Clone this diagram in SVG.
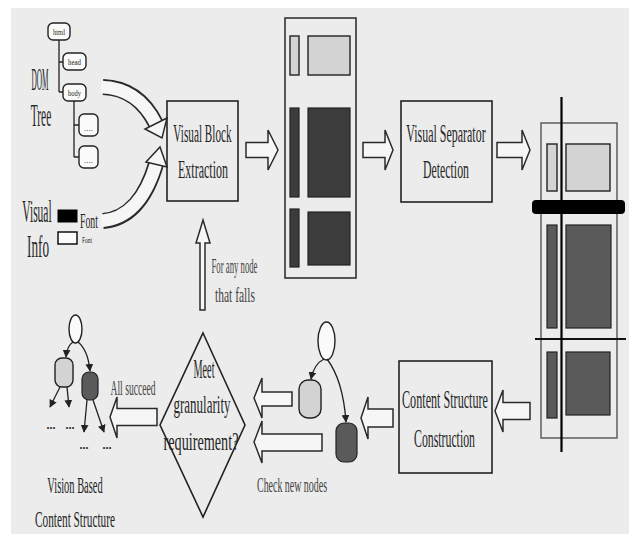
<svg xmlns="http://www.w3.org/2000/svg" width="629" height="534" viewBox="0 0 629 534">
<defs>
<style>
.t{font-family:"Liberation Serif",serif;fill:#262626;text-anchor:middle;}
.s{font-family:"Liberation Serif",serif;fill:#444;text-anchor:middle;}
.box{fill:none;stroke:#222;stroke-width:1.6;}
.arr{fill:#f6f6f6;stroke:#2a2a2a;stroke-width:1.5;stroke-linejoin:miter;}
.dn{fill:#fafafa;stroke:#222;stroke-width:1.4;}
.lt{fill:#d3d3d3;stroke:#222;stroke-width:1.4;}
.dk1{fill:#3c3c3c;stroke:#222;stroke-width:1.2;}
.dk2{fill:#5a5a5a;stroke:#222;stroke-width:1.2;}
.edge{fill:none;stroke:#222;stroke-width:1.3;}
</style>
<marker id="ah" viewBox="0 0 10 10" refX="9" refY="5" markerWidth="6" markerHeight="6" orient="auto">
<path d="M0,0 L10,5 L0,10 z" fill="#222"/>
</marker>
</defs>
<rect x="0" y="0" width="629" height="534" fill="#ffffff"/>
<rect x="11" y="8" width="618" height="526" fill="#ececec"/>

<g id="dom-tree">
<text class="t" font-size="32" transform="translate(40,90) scale(0.228,1)">DOM</text>
<text class="t" font-size="32" transform="translate(41,126) scale(0.358,1)">Tree</text>
<path class="edge" d="M59,40 V92 M59,62 H63 M59,92 H63 M74,101 V157 M74,125 H79 M74,157 H79"/>
<rect class="dn" x="48" y="23" width="22" height="17" rx="5"/>
<text class="t" font-size="9" transform="translate(59,35) scale(0.727,1)">html</text>
<rect class="dn" x="63" y="53" width="23" height="17" rx="5"/>
<text class="t" font-size="9" transform="translate(74.5,65) scale(0.765,1)">head</text>
<rect class="dn" x="63" y="84" width="23" height="17" rx="5"/>
<text class="t" font-size="9" transform="translate(74.5,96) scale(0.722,1)">body</text>
<rect class="dn" x="79" y="114" width="19" height="22" rx="5"/>
<text class="t" x="88.5" y="131" font-size="9">....</text>
<rect class="dn" x="79" y="146" width="19" height="22" rx="5"/>
<text class="t" x="88.5" y="163" font-size="9">....</text>
</g>

<g id="visual-info">
<text class="t" font-size="31" transform="translate(37,222) scale(0.371,1)">Visual</text>
<text class="t" font-size="31" transform="translate(38,257) scale(0.426,1)">Info</text>
<rect x="58" y="210" width="19" height="12" fill="#000" stroke="#000" stroke-width="1"/>
<rect x="58" y="232" width="19" height="12" fill="#fafafa" stroke="#111" stroke-width="1.5"/>
<text class="t" font-size="22" transform="translate(89,228) scale(0.446,1)">Font</text>
<text class="t" font-size="9" transform="translate(87,243) scale(0.606,1)">Font</text>
</g>

<g id="visual-block-extraction">
<rect class="box" x="167" y="101" width="71" height="100"/>
<text class="t" font-size="26" transform="translate(202.5,142) scale(0.432,1)">Visual Block</text>
<text class="t" font-size="26" transform="translate(203,178) scale(0.462,1)">Extraction</text>
</g>

<g id="page-blocks">
<rect x="285" y="18" width="71" height="260" fill="none" stroke="#333" stroke-width="1.6"/>
<rect class="lt" x="290" y="36" width="9" height="39"/>
<rect class="lt" x="308" y="36" width="42" height="39"/>
<rect class="dk1" x="290" y="108" width="9" height="89"/>
<rect class="dk1" x="308" y="108" width="42" height="89"/>
<rect class="dk1" x="290" y="209" width="9" height="58"/>
<rect class="dk1" x="308" y="212" width="42" height="53"/>
</g>

<g id="visual-separator-detection">
<rect class="box" x="401" y="101" width="91" height="101"/>
<text class="t" font-size="26" transform="translate(446,142) scale(0.46,1)">Visual Separator</text>
<text class="t" font-size="26" transform="translate(446,178) scale(0.455,1)">Detection</text>
</g>

<g id="page-separators">
<rect x="541" y="123" width="76" height="315" fill="none" stroke="#555" stroke-width="1.4"/>
<rect class="lt" x="547" y="144" width="10" height="47"/>
<rect class="lt" x="566" y="144" width="44" height="47"/>
<rect class="dk2" x="547" y="225" width="10" height="103"/>
<rect class="dk2" x="566" y="225" width="45" height="103"/>
<rect class="dk2" x="547" y="352" width="10" height="66"/>
<rect class="dk2" x="566" y="352" width="44" height="63"/>
<line x1="535" y1="339" x2="626" y2="339" stroke="#111" stroke-width="1.8"/>
<rect x="532" y="200" width="93" height="14" rx="4" fill="#000"/>
<line x1="561.5" y1="97" x2="561.5" y2="452" stroke="#000" stroke-width="2.2"/>
</g>

<g id="content-structure-construction">
<rect class="box" x="399" y="361" width="93" height="112"/>
<text class="t" font-size="26" transform="translate(445,408) scale(0.467,1)">Content Structure</text>
<text class="t" font-size="26" transform="translate(444.5,447) scale(0.454,1)">Construction</text>
</g>

<g id="new-nodes-tree">
<ellipse cx="326.5" cy="341" rx="8.5" ry="19" fill="#fafafa" stroke="#222" stroke-width="1.4"/>
<rect class="lt" x="299" y="380" width="22" height="38" rx="9"/>
<rect class="dk2" x="336" y="423" width="21" height="39" rx="8"/>
<path class="edge" d="M324,359 Q314,364 311,379" marker-end="url(#ah)"/>
<path class="edge" d="M327,359 Q343,380 346,422" marker-end="url(#ah)"/>
</g>

<g id="granularity-check">
<polygon points="203,333 245,425 203,517 160,425" fill="none" stroke="#222" stroke-width="1.6"/>
<text class="t" font-size="28" transform="translate(204,378) scale(0.365,1)">Meet</text>
<text class="t" font-size="26" transform="translate(202,413) scale(0.5,1)">granularity</text>
<text class="t" font-size="26" transform="translate(201,450) scale(0.547,1)">requirement?</text>
</g>

<g id="vision-based-content-structure">
<ellipse cx="75.5" cy="329" rx="6.5" ry="14" fill="#fafafa" stroke="#222" stroke-width="1.4"/>
<rect class="lt" x="55" y="358" width="18" height="29" rx="7"/>
<rect class="dk2" x="82" y="372" width="16" height="28" rx="7"/>
<path class="edge" d="M73,342 Q67,346 66,357" marker-end="url(#ah)"/>
<path class="edge" d="M78,342 Q88,350 90,371" marker-end="url(#ah)"/>
<path class="edge" d="M60,387 L50,407" marker-end="url(#ah)"/>
<path class="edge" d="M67,387 L69,407" marker-end="url(#ah)"/>
<path class="edge" d="M87,400 L84,432" marker-end="url(#ah)"/>
<path class="edge" d="M93,400 L104,432" marker-end="url(#ah)"/>
<text class="t" x="51" y="429" font-size="12" font-weight="bold">...</text>
<text class="t" x="70" y="429" font-size="12" font-weight="bold">...</text>
<text class="t" x="84" y="449" font-size="12" font-weight="bold">...</text>
<text class="t" x="107" y="449" font-size="12" font-weight="bold">...</text>
<text class="t" font-size="24" transform="translate(75,493) scale(0.435,1)">Vision Based</text>
<text class="t" font-size="24" transform="translate(75,527) scale(0.47,1)">Content Structure</text>
</g>

<g id="connectors">
<path d="M103,87 Q138,88 156,124" fill="none" stroke="#2a2a2a" stroke-width="16"/>
<path d="M101,87 Q138,88 156,124" fill="none" stroke="#f6f6f6" stroke-width="12.5"/>
<polygon class="arr" points="145,129 162,138 167,118"/>
<path d="M103,221 Q140,218 156,164" fill="none" stroke="#2a2a2a" stroke-width="16"/>
<path d="M101,221 Q140,218 156,164" fill="none" stroke="#f6f6f6" stroke-width="12.5"/>
<polygon class="arr" points="146,162 160,147 167,167"/>
<path class="arr" d="M246,142.5 H268 V130 L278,150 L268,170 V157.5 H246 Z"/>
<path class="arr" d="M363,142.5 H385 V130 L393,150 L385,170 V157.5 H363 Z"/>
<path class="arr" d="M497,142.5 H522 V130 L530,150 L522,170 V157.5 H497 Z"/>
<path class="arr" d="M200,310 V243 H196 L203,220 L210,243 H205 V310 Z"/>
<path class="arr" d="M530,402.5 H503 V390 L495,411 L503,432 V419.5 H530 Z"/>
<path class="arr" d="M393,409 H368 V397 L361,418 L368,439 V427 H393 Z"/>
<path class="arr" d="M292,392 H262 V378 L254,398 L262,418 V406 H292 Z"/>
<path class="arr" d="M322,434 H262 V421 L254,442 L262,463 V451 H322 Z"/>
<path class="arr" d="M157,408.5 H117 V397 L110,417 L117,438 V425.5 H157 Z"/>
<text class="s" font-size="21" transform="translate(234.5,273) scale(0.415,1)">For any node</text>
<text class="s" font-size="21" transform="translate(235,302) scale(0.549,1)">that falls</text>
<text class="s" font-size="21" transform="translate(133,395) scale(0.456,1)">All succeed</text>
<text class="s" font-size="21" transform="translate(292,492) scale(0.473,1)">Check new nodes</text>
</g>
</svg>
